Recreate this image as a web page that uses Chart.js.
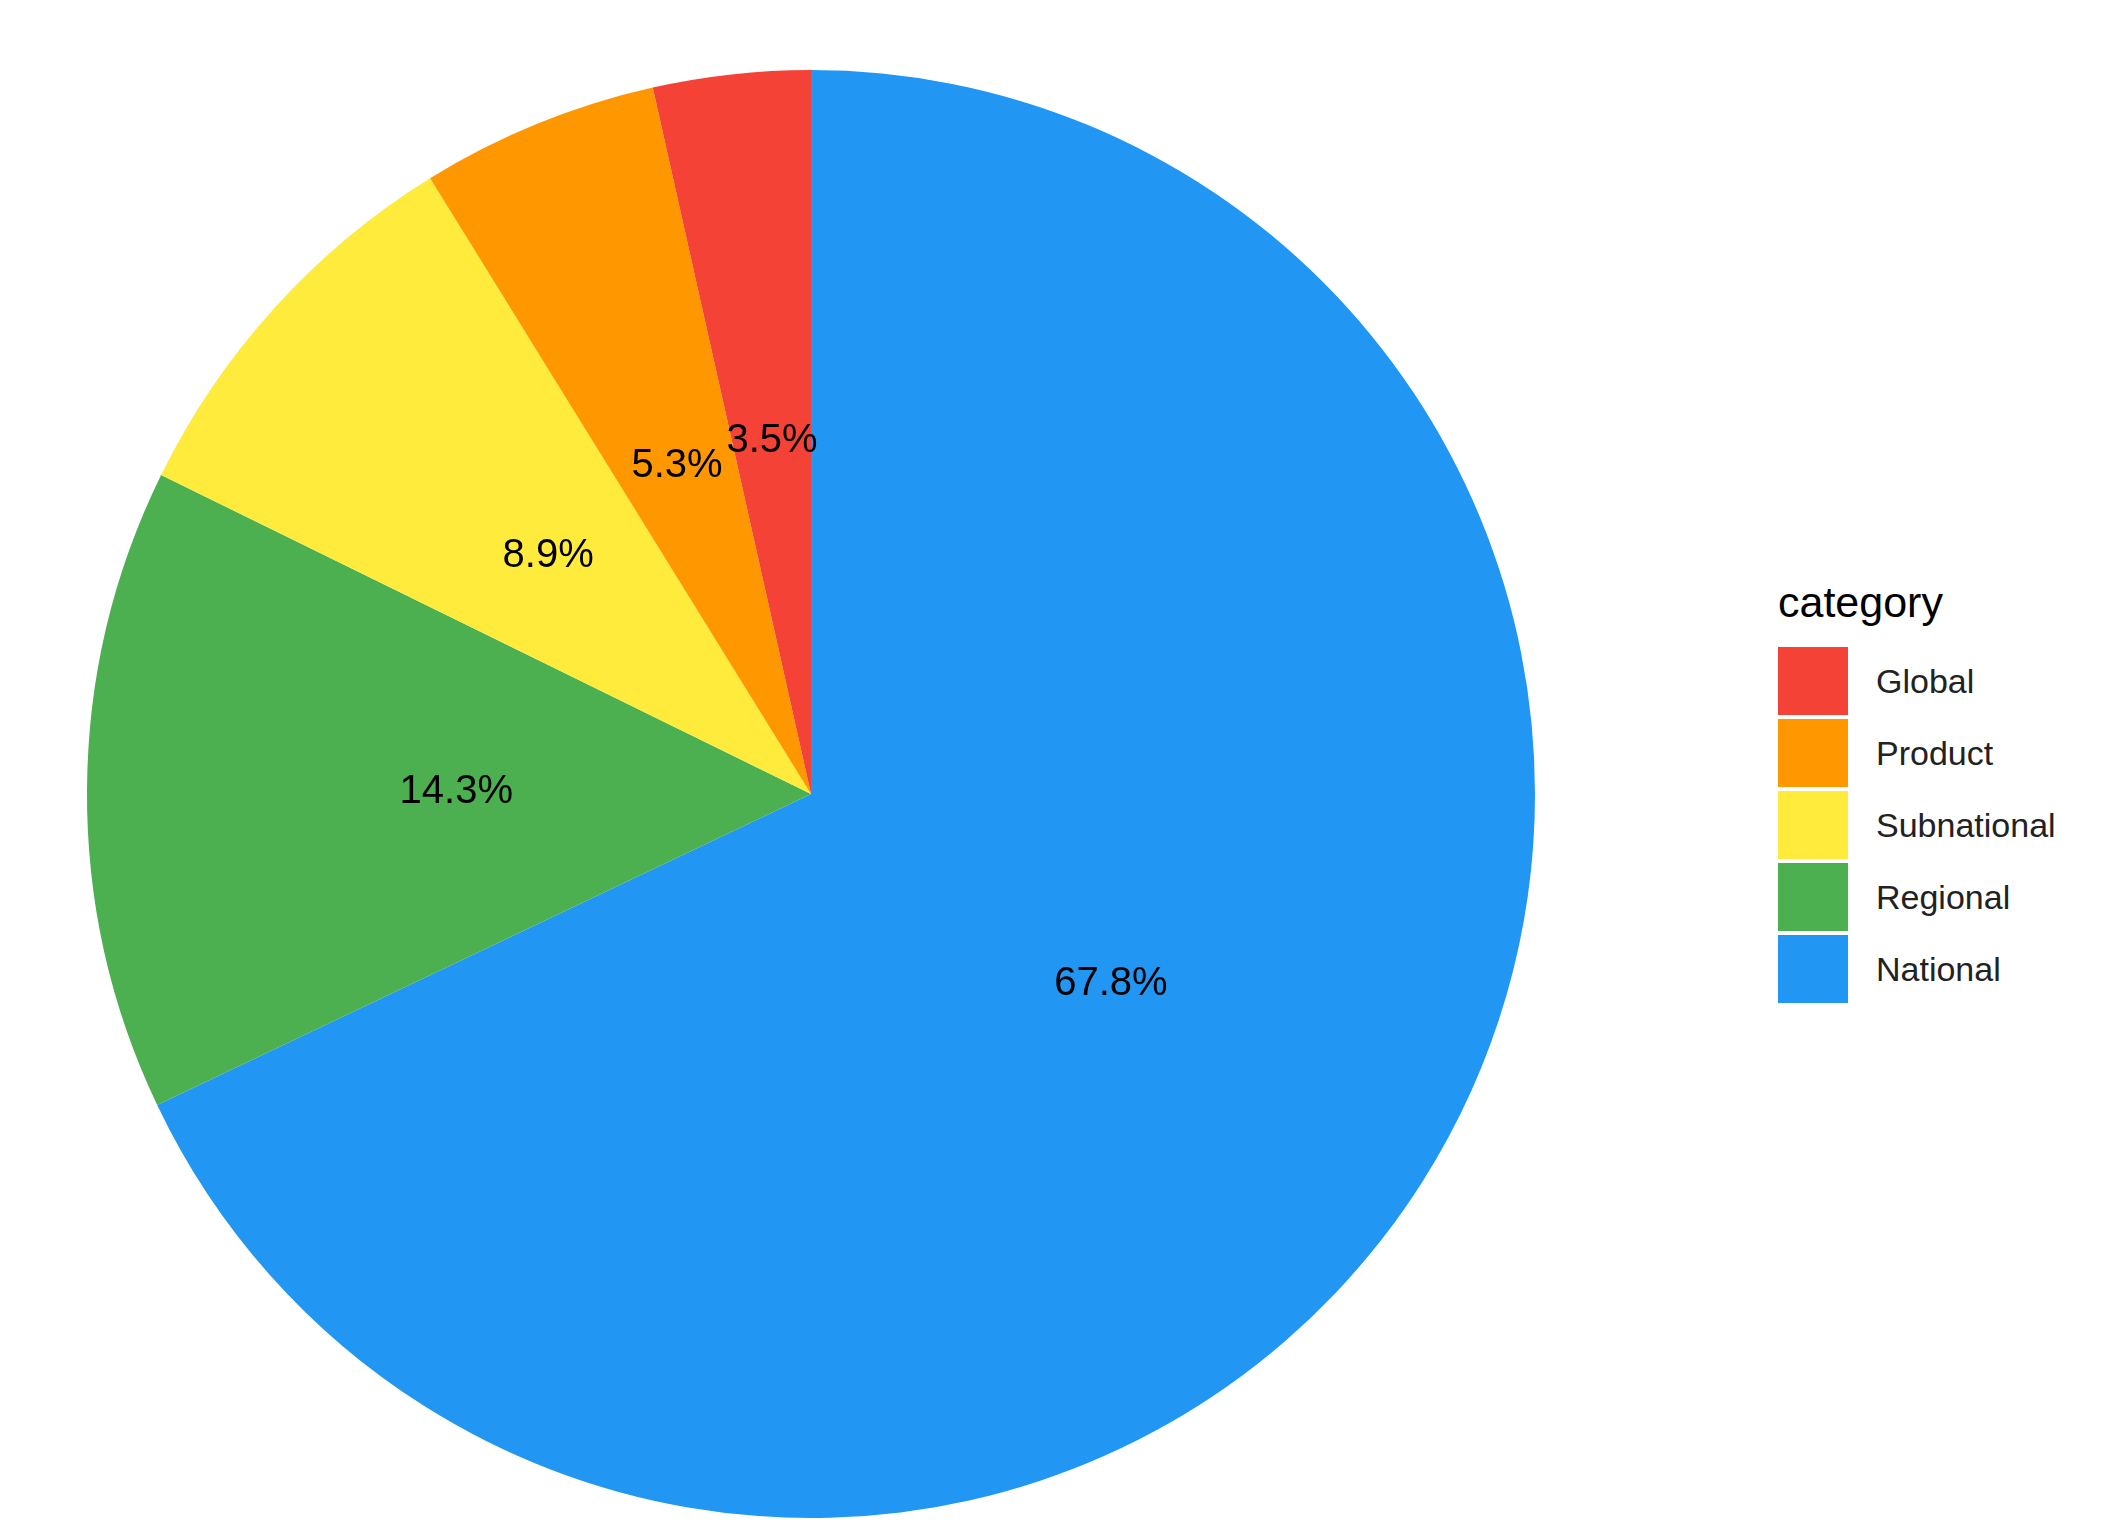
<!DOCTYPE html>
<html>
<head>
<meta charset="utf-8">
<script src="https://cdn.jsdelivr.net/npm/chart.js@4"></script>
<style>
  body { margin: 0; background: #fff; font-family: "Liberation Sans", Arial, sans-serif; }
  #wrap { position: relative; width: 2103px; height: 1538px; }
  #box { position: absolute; left: 0; top: 0; width: 1622px; height: 1538px; }
  #legend { position: absolute; left: 1778px; top: 578px; }
  #legend .title { font-size: 43px; margin-bottom: 18px; color: #000; }
  #legend .item { display: flex; align-items: center; height: 72px; font-size: 34px; color: #222; }
  #legend .sw { width: 70px; height: 68px; margin-right: 28px; }
</style>
</head>
<body>
<div id="wrap">
  <div id="box"><canvas id="pie"></canvas></div>
  <div id="legend"></div>
</div>
<script>
// categorias na ordem do gráfico (sentido horário a partir do topo)
const categorias = ['National', 'Regional', 'Subnational', 'Product', 'Global'];
const valores = [67.8, 14.3, 8.9, 5.3, 3.5];
const cores = ['#2196F3', '#4CAF50', '#FFEB3B', '#FF9800', '#F44336'];

// legenda em ordem inversa, como no original
const legend = document.getElementById('legend');
legend.innerHTML = '<div class="title">category</div>';
for (let i = categorias.length - 1; i >= 0; i--) {
  legend.innerHTML += `<div class="item"><div class="sw" style="background:${cores[i]}"></div>${categorias[i]}</div>`;
}

// plugin para escrever as porcentagens dentro das fatias
const rotulos = {
  id: 'rotulos',
  afterDatasetsDraw(chart) {
    const ctx = chart.ctx;
    const meta = chart.getDatasetMeta(0);
    ctx.save();
    ctx.font = '40px "Liberation Sans", Arial, sans-serif';
    ctx.fillStyle = '#000';
    ctx.textAlign = 'center';
    ctx.textBaseline = 'middle';
    meta.data.forEach((arc, i) => {
      const p = arc.getProps(['x', 'y', 'startAngle', 'endAngle', 'outerRadius'], true);
      const a = (p.startAngle + p.endAngle) / 2;
      const r = p.outerRadius * 0.49;
      ctx.fillText(valores[i].toFixed(1) + '%', p.x + Math.cos(a) * r, p.y + Math.sin(a) * r);
    });
    ctx.restore();
  }
};

new Chart(document.getElementById('pie'), {
  type: 'pie',
  data: {
    labels: categorias,
    datasets: [{ data: valores, backgroundColor: cores, borderWidth: 0 }]
  },
  options: {
    responsive: true,
    maintainAspectRatio: false,
    animation: false,
    layout: { padding: { top: 70, bottom: 20 } },
    plugins: { legend: { display: false }, tooltip: { enabled: false } }
  },
  plugins: [rotulos]
});
</script>
</body>
</html>
